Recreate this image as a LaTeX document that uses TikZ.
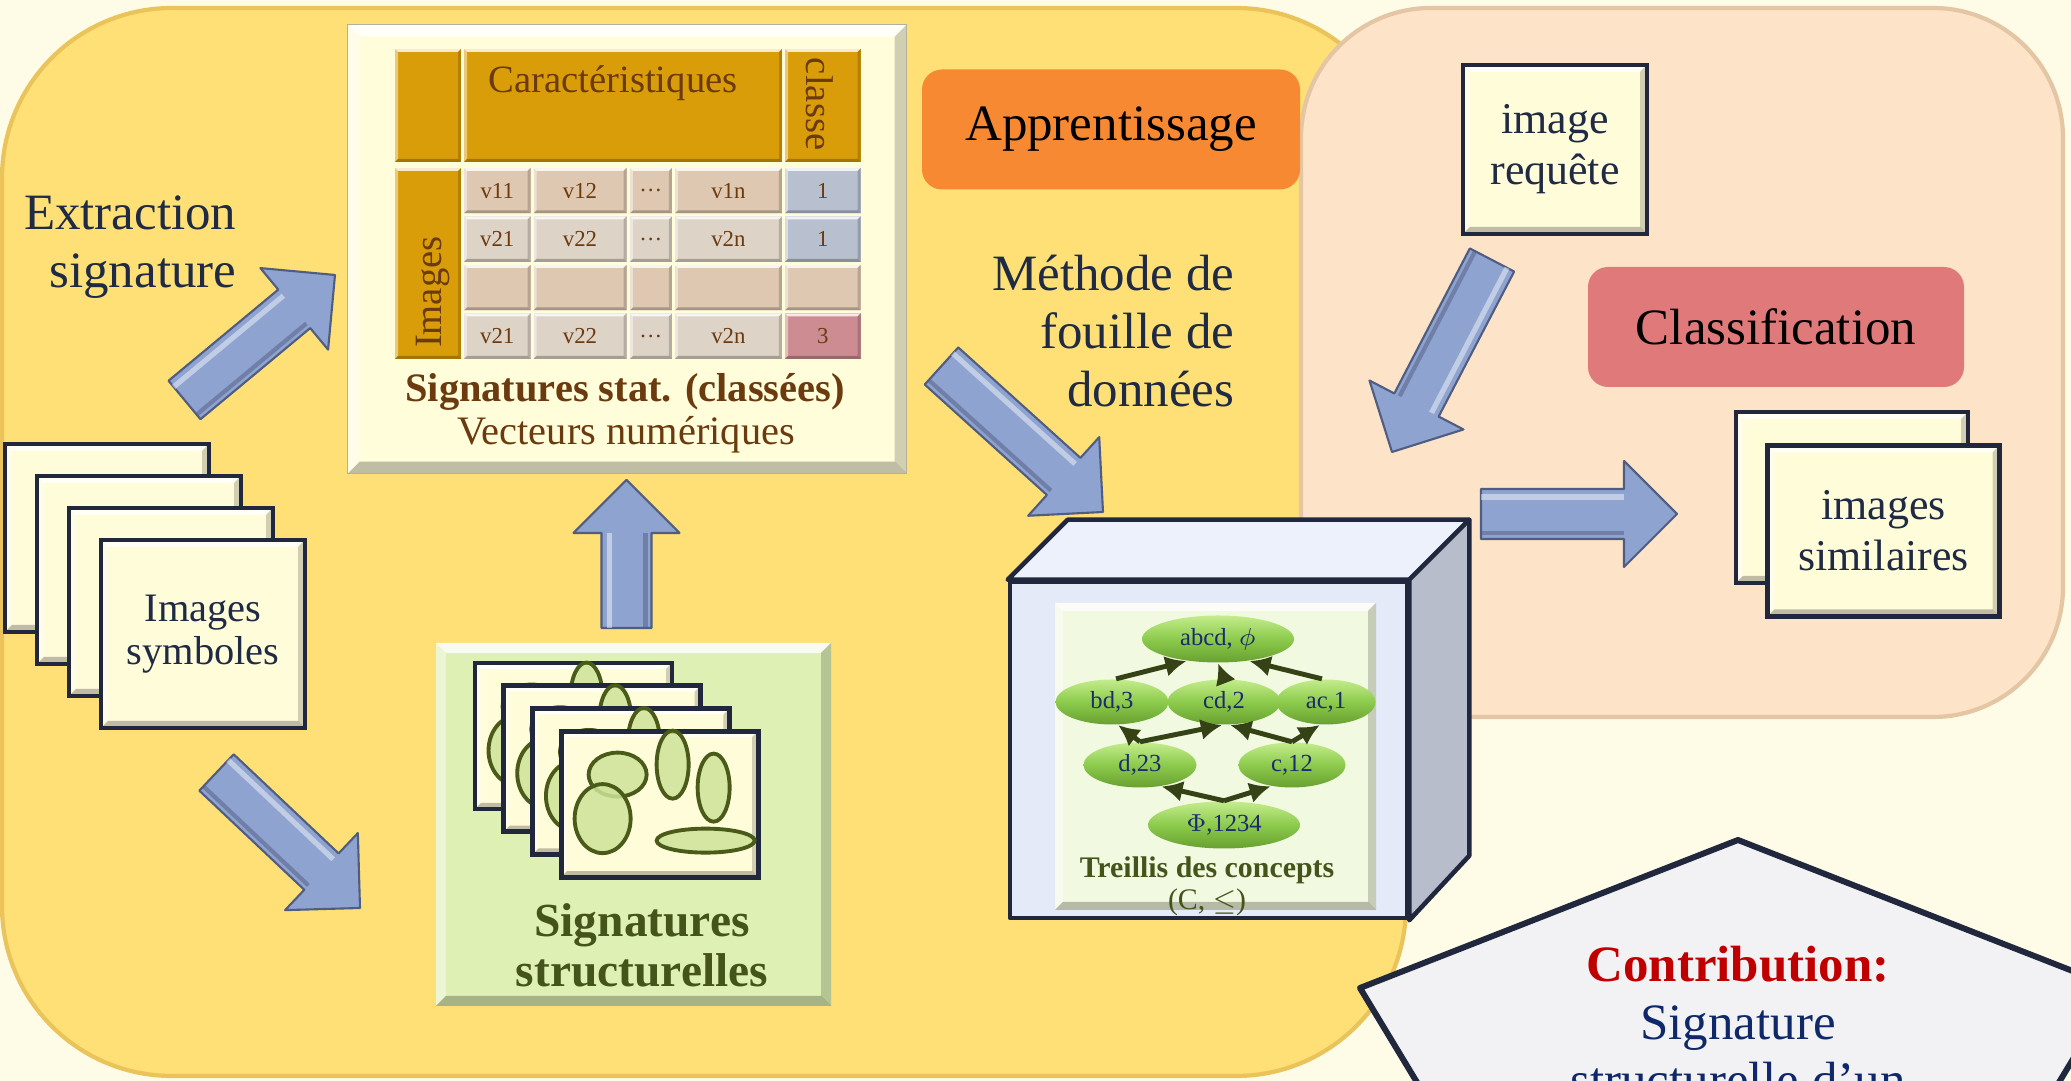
\documentclass[tikz,border=0pt]{standalone}
\usepackage{fontspec}
\setmainfont{Liberation Serif}
\usetikzlibrary{calc}
\usetikzlibrary{positioning}
\usetikzlibrary{shapes.geometric}
\usetikzlibrary{arrows.meta}

\definecolor{bgcream}{RGB}{254,252,231}
\definecolor{zoneyellow}{RGB}{254,224,118}
\definecolor{zoneyellowedge}{RGB}{234,196,90}
\definecolor{zonepeach}{RGB}{253,227,199}
\definecolor{zonepeachedge}{RGB}{228,198,165}
\definecolor{statcream}{RGB}{255,253,218}
\definecolor{headgold}{RGB}{218,157,10}
\definecolor{textbrown}{RGB}{107,58,14}
\definecolor{rowtan}{RGB}{223,200,177}
\definecolor{rowgrey}{RGB}{221,211,199}
\definecolor{clblue}{RGB}{184,192,208}
\definecolor{clpink}{RGB}{205,140,146}
\definecolor{navy}{RGB}{33,40,62}
\definecolor{boxtext}{RGB}{31,42,68}
\definecolor{framecream}{RGB}{255,252,218}
\definecolor{structgreen}{RGB}{222,240,180}
\definecolor{olive}{RGB}{69,84,26}
\definecolor{blobgreen}{RGB}{206,227,153}
\definecolor{blobedge}{RGB}{74,91,25}
\definecolor{apporange}{RGB}{247,137,50}
\definecolor{classred}{RGB}{224,122,122}
\definecolor{arrowblue}{RGB}{143,163,208}
\definecolor{arrowedge}{RGB}{80,93,130}
\definecolor{cubefront}{RGB}{228,234,248}
\definecolor{cubetop}{RGB}{236,241,252}
\definecolor{cubeside}{RGB}{184,189,203}
\definecolor{lattcream}{RGB}{241,249,224}
\definecolor{lattgreen}{RGB}{140,203,76}
\definecolor{lattlight}{RGB}{196,236,140}
\definecolor{lattdark}{RGB}{104,160,48}
\definecolor{lattnavy}{RGB}{28,42,110}
\definecolor{lattarrow}{RGB}{52,66,22}
\definecolor{contribfill}{RGB}{242,242,244}
\definecolor{contribred}{RGB}{192,0,0}
\definecolor{contribnavy}{RGB}{15,40,105}

\newcommand{\bigtxt}{\fontsize{14.5}{16.5}\selectfont}
\newcommand{\boxtxt}{\fontsize{12.5}{14.5}\selectfont}
\newcommand{\symbtxt}{\fontsize{11.5}{12.3}\selectfont}
\newcommand{\tabtxt}{\fontsize{11}{12}\selectfont}
\newcommand{\capttxt}{\fontsize{11.5}{12.2}\selectfont}
\newcommand{\structtxt}{\fontsize{13.5}{14.2}\selectfont}
\newcommand{\celltxt}{\fontsize{6.5}{7.5}\selectfont}
\newcommand{\latttxt}{\fontsize{7}{8}\selectfont}
\newcommand{\treillistxt}{\fontsize{8.5}{9.5}\selectfont}

% big bevelled arrow between two named coordinates
\newcommand{\fatarrow}[2]{%
  \coordinate (#1-hb) at ($(#2)!0.53cm!(#1)$);
  \filldraw[fatarrow] ($(#1)!0.25cm!-90:(#2)$) -- ($(#1-hb)!0.25cm!90:(#1)$) -- ($(#1-hb)!0.53cm!90:(#1)$) -- (#2)
    -- ($(#1-hb)!0.53cm!-90:(#1)$) -- ($(#1-hb)!0.25cm!-90:(#1)$) -- ($(#1)!0.25cm!90:(#2)$) -- cycle;
  \draw[white, opacity=.45, line width=1.5pt] ($(#1)!0.17cm!90:(#2)$) -- ($(#1-hb)!0.17cm!-90:(#1)$);
  \draw[arrowedge, opacity=.5, line width=1.2pt] ($(#1)!0.19cm!-90:(#2)$) -- ($(#1-hb)!0.19cm!90:(#1)$);
}

\tikzset{
  bevel/.style={path picture={
      \fill[white, opacity=.8] (path picture bounding box.north west) -- (path picture bounding box.north east)
        -- ([shift={(-#1,-#1)}]path picture bounding box.north east) -- ([shift={(#1,-#1)}]path picture bounding box.north west) -- cycle;
      \fill[white, opacity=.45] (path picture bounding box.north west) -- ([shift={(#1,-#1)}]path picture bounding box.north west)
        -- ([shift={(#1,#1)}]path picture bounding box.south west) -- (path picture bounding box.south west) -- cycle;
      \fill[black, opacity=.25] (path picture bounding box.south west) -- ([shift={(#1,#1)}]path picture bounding box.south west)
        -- ([shift={(-#1,#1)}]path picture bounding box.south east) -- (path picture bounding box.south east) -- cycle;
      \fill[black, opacity=.18] (path picture bounding box.north east) -- (path picture bounding box.south east)
        -- ([shift={(-#1,#1)}]path picture bounding box.south east) -- ([shift={(-#1,-#1)}]path picture bounding box.north east) -- cycle;
  }},
  bevel/.default=0.1
}
\tikzstyle{imgbox} = [draw=navy, line width=1.4pt, fill=framecream, bevel=0.07, align=center, text=boxtext, font=\boxtxt]
\tikzstyle{structframe} = [draw=navy, line width=1.4pt, fill=framecream, bevel=0.06, minimum width=1.97cm, minimum height=1.46cm]
\tikzstyle{blob} = [draw=blobedge, line width=1.1pt, fill=blobgreen, fill opacity=.85]
\tikzstyle{cell} = [inner sep=0pt, minimum height=0.455cm, bevel=0.03, text=textbrown, font=\celltxt]
\tikzstyle{headcell} = [cell, fill=headgold, font=\tabtxt]
\tikzstyle{stagebox} = [rounded corners=0.2cm, minimum width=3.78cm, minimum height=1.2cm, font=\bigtxt]
\tikzstyle{steptxt} = [font=\bigtxt, text=boxtext, align=right, inner sep=0pt]
\tikzstyle{lattnode} = [ellipse, inner sep=0pt, minimum height=0.45cm, top color=lattlight, bottom color=lattdark, middle color=lattgreen, text=lattnavy, font=\latttxt]
\tikzstyle{lattedge} = [draw=lattarrow, line width=1.4pt, -{Latex[length=6pt,width=6pt]}]
\tikzstyle{fatarrow} = [fill=arrowblue, draw=arrowedge, line width=0.6pt, line join=round]
\tikzstyle{cubeface} = [draw=navy, line width=1.3pt, line join=round]

\begin{document}
\begin{tikzpicture}
\fill[bgcream] (0,0) rectangle (20.71,-10.81);
\useasboundingbox (0,0) rectangle (20.71,-10.81);
\clip (0,0) rectangle (20.71,-10.81);

% learning and classification zones
\filldraw[fill=zoneyellow, draw=zoneyellowedge, line width=1.2pt, rounded corners=1.7cm] (0.02,-0.08) rectangle (14.06,-10.76);
\filldraw[fill=zonepeach, draw=zonepeachedge, line width=1.2pt, rounded corners=1.3cm] (13.01,-0.08) rectangle (20.63,-7.17);

% statistical signatures table
\node[fill=statcream, draw=statcream!70!black, line width=0.4pt, bevel=0.12, minimum width=5.59cm, minimum height=4.49cm, anchor=north west, inner sep=0pt] (stat) at (3.47,-0.24) {};
\node[headcell, minimum width=0.66cm, minimum height=1.13cm] (hd-img) at (4.28,-1.055) {};
\node[headcell, minimum width=3.18cm, minimum height=1.13cm] (hd-car) at (6.23,-1.055) {};
\node[headcell, minimum width=0.755cm, minimum height=1.13cm] (hd-cl) at (8.2275,-1.055) {};
\node[headcell, minimum width=0.66cm, minimum height=1.91cm] (col-img) at (4.28,-2.635) {};
\node[font=\tabtxt, text=textbrown, anchor=north, inner sep=0pt] (car-txt) at ([xshift=-0.1cm, yshift=-0.17cm]hd-car.north) {Caractéristiques};
\node[font=\tabtxt, text=textbrown, rotate=-90, anchor=west, inner sep=0pt] (cl-txt) at ([xshift=-0.03cm, yshift=-0.09cm]hd-cl.north) {classe};
\node[font=\tabtxt, text=textbrown, rotate=90, anchor=west, inner sep=0pt] (img-txt) at ([xshift=0.05cm, yshift=0.11cm]col-img.south) {Images};
\foreach \row/\y/\rc/\va/\vb/\vd/\vn/\cls/\kc in {1/1.9075/rowtan/v11/v12/\ldots/v1n/1/clblue,
    2/2.3925/rowgrey/v21/v22/\ldots/v2n/1/clblue, 3/2.8775/rowtan/{}/{}/{}/{}/{}/rowtan,
    4/3.3625/rowgrey/v21/v22/\ldots/v2n/3/clpink} {
  \node[cell, fill=\rc, minimum width=0.665cm] (c\row-a) at (4.9725,-\y) {\va};
  \node[cell, fill=\rc, minimum width=0.93cm] (c\row-b) at (5.80,-\y) {\vb};
  \node[cell, fill=\rc, minimum width=0.42cm] (c\row-d) at (6.508,-\y) {\vd};
  \node[cell, fill=\rc, minimum width=1.07cm] (c\row-n) at (7.2845,-\y) {\vn};
  \node[cell, fill=\kc, minimum width=0.755cm] (c\row-k) at (8.2275,-\y) {\cls};
}
\node[font=\capttxt\bfseries, text=textbrown, anchor=base] (stat-title) at (6.25,-4.02) {Signatures stat. (classées)};
\node[font=\capttxt, text=textbrown, anchor=base] (stat-sub) at (6.26,-4.45) {Vecteurs numériques};

\node[steptxt, anchor=east] (extr-txt) at (2.37,-2.47) {Extraction\\signature};

% symbol images
\foreach \i in {0,...,2}
  \node[imgbox, minimum width=2.04cm, minimum height=1.88cm] (symb\i) at ({1.07+0.32*\i},{-5.38-0.32*\i}) {};
\node[imgbox, font=\symbtxt, minimum width=2.04cm, minimum height=1.88cm] (symb3) at (2.03,-6.34) {Images\\symboles};

% structural signatures
\node[fill=structgreen, bevel=0.1, minimum width=3.95cm, minimum height=3.63cm, inner sep=0pt] (structp) at (6.335,-8.245) {};
\foreach \i in {0,...,3} {
  \node[structframe] (sframe\i) at ({5.735+0.287*\i},{-7.36-0.227*\i}) {};
  \begin{scope}[shift={(sframe\i.north west)}]
    \draw[blob] (0.59,-0.46) ellipse (0.29 and 0.22);
    \draw[blob] (0.44,-0.90) ellipse (0.28 and 0.345);
    \draw[blob] (1.14,-0.36) ellipse (0.16 and 0.34);
    \draw[blob] (1.55,-0.59) ellipse (0.16 and 0.34);
    \draw[blob] (1.47,-1.12) ellipse (0.49 and 0.12);
  \end{scope}
}
\node[font=\structtxt\bfseries, text=olive, align=center] (struct-txt) at (6.42,-9.45) {Signatures\\structurelles};

% learning step
\node[stagebox, fill=apporange] (appr) at (11.11,-1.295) {Apprentissage};
\node[steptxt, anchor=east] (fouille-txt) at (12.35,-3.31) {Méthode de\\fouille de\\données};

% concept lattice box
\node[fill=cubefront, cubeface, minimum width=3.97cm, minimum height=3.36cm, inner sep=0pt] (cube) at (12.085,-7.50) {};
\filldraw[fill=cubetop, cubeface] (cube.north west) -- ++(0.6,0.6) -- ($(cube.north east)+(0.6,0.6)$) -- (cube.north east) -- cycle;
\filldraw[fill=cubeside, cubeface] (cube.north east) -- ++(0.6,0.6) -- ++(0,-3.36) -- (cube.south east) -- cycle;
\node[fill=lattcream, bevel=0.08, minimum width=3.21cm, minimum height=3.07cm, inner sep=0pt] (lattp) at (12.155,-7.565) {};
\node[lattnode, minimum width=1.52cm, minimum height=0.47cm] (abcd) at (12.18,-6.39) {abcd, $\phi$};
\node[lattnode, minimum width=1.13cm] (bd3) at (11.12,-7.02) {bd,3};
\node[lattnode, minimum width=1.13cm] (cd2) at (12.24,-7.02) {cd,2};
\node[lattnode, minimum width=0.99cm] (ac1) at (13.26,-7.02) {ac,1};
\node[lattnode, minimum width=1.13cm] (d23) at (11.40,-7.65) {d,23};
\node[lattnode, minimum width=1.07cm] (c12) at (12.92,-7.65) {c,12};
\node[lattnode, minimum width=1.52cm, minimum height=0.47cm] (phi) at (12.24,-8.25) {$\Phi$,1234};
\draw[lattedge] (bd3.80) -- (abcd.215);
\draw[lattedge] (cd2.90) -- (abcd.270);
\draw[lattedge] (ac1.100) -- (abcd.325);
\draw[lattedge] (d23.north) -- (bd3.285);
\draw[lattedge] (d23.north) -- (cd2.265);
\draw[lattedge] (c12.north) -- (cd2.285);
\draw[lattedge] (c12.north) -- (ac1.255);
\draw[lattedge] (phi.north) -- (d23.315);
\draw[lattedge] (phi.north) -- (c12.225);
\node[font=\treillistxt\bfseries, text=olive] (treillis-txt) at (12.07,-8.70) {Treillis des concepts};
\node[font=\treillistxt, text=olive] (order-txt) at (12.07,-9.02) {(C, $\leq$)};

% classification step
\node[imgbox, minimum width=1.84cm, minimum height=1.69cm] (query) at (15.55,-1.495) {image\\requête};
\node[stagebox, fill=classred, minimum width=3.76cm] (classif) at (17.76,-3.27) {Classification};
\node[imgbox, minimum width=2.32cm, minimum height=1.71cm] (simil0) at (18.52,-4.975) {};
\node[imgbox, minimum width=2.32cm, minimum height=1.71cm] (simil1) at (18.835,-5.31) {images\\similaires};

% flow arrows
\coordinate (extr-from) at (1.845,-4.00);
\coordinate (extr-to) at (3.35,-2.75);
\coordinate (symb-from) at (2.165,-7.725);
\coordinate (symb-to) at (3.60,-9.08);
\coordinate (struct-from) at (6.265,-6.28);
\coordinate (struct-to) at (6.265,-4.80);
\coordinate (fouille-from) at (9.415,-3.66);
\coordinate (fouille-to) at (11.03,-5.12);
\coordinate (query-from) at (14.92,-2.60);
\coordinate (query-to) at (13.92,-4.52);
\coordinate (simil-from) at (14.81,-5.14);
\coordinate (simil-to) at (16.77,-5.14);
\fatarrow{extr-from}{extr-to}
\fatarrow{symb-from}{symb-to}
\fatarrow{struct-from}{struct-to}
\fatarrow{fouille-from}{fouille-to}
\fatarrow{query-from}{query-to}
\fatarrow{simil-from}{simil-to}

% contribution
\filldraw[fill=contribfill, draw=navy, line width=1.7pt, line join=round] (17.38,-8.40) -- (21.16,-9.88) -- (19.71,-12.28) -- (15.05,-12.28) -- (13.60,-9.88) -- cycle;
\node[font=\bigtxt, text=contribnavy, align=center, anchor=north, inner sep=0pt] (contrib-txt) at (17.38,-9.45) {{\bfseries\color{contribred}Contribution:}\\Signature\\structurelle d'un};
\end{tikzpicture}
\end{document}
